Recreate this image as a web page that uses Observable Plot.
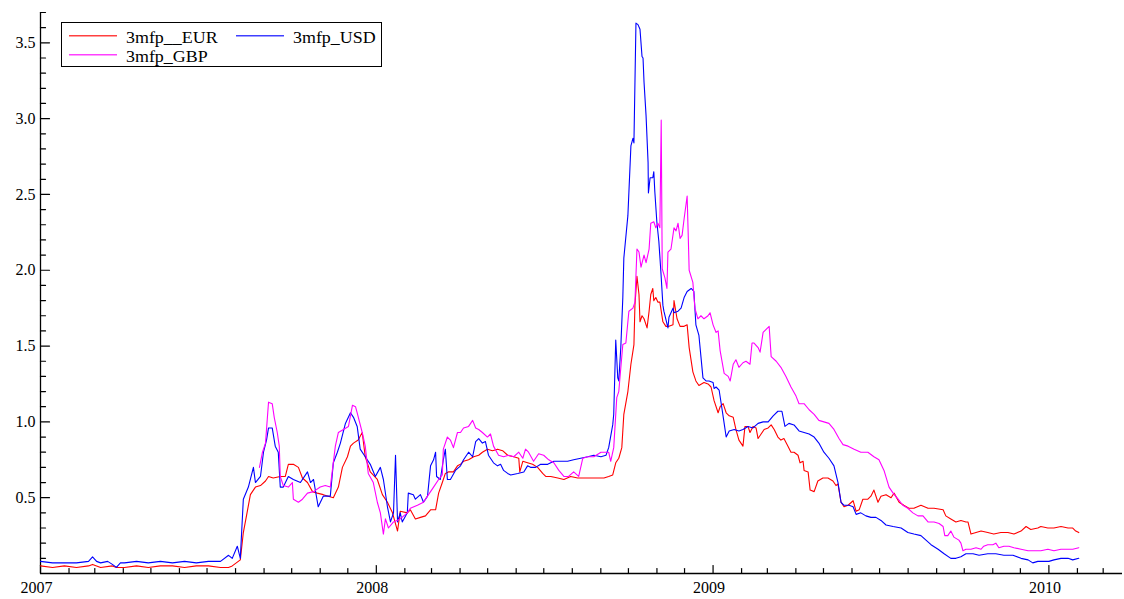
<!DOCTYPE html>
<html>
<head>
<meta charset="utf-8">
<script src="https://cdn.jsdelivr.net/npm/d3@7"></script>
<script src="https://cdn.jsdelivr.net/npm/@observablehq/plot@0.6"></script>
<style>
  body { margin: 0; background: #fff; }
  #wrap { position: relative; width: 1124px; height: 599px; }
  #legend { position: absolute; left: 61px; top: 22px; width: 319px; height: 43px; border: 1px solid #000; background: #fff; font-family: "Liberation Serif", serif; font-size: 16px; color: #000; }
  #legend svg { position: absolute; left: 0; top: 0; }
  .lab { position: absolute; line-height: 16px; white-space: nowrap; transform: scaleX(1.12); transform-origin: left center; }
</style>
</head>
<body>
<div id="wrap"><div id="legend"></div></div>
<script>
// ---- series names / colours ----
const seriesNames = ["3mfp__EUR", "3mfp_USD", "3mfp_GBP"];
const seriesColors = ["#ff0000", "#0000ff", "#ff00ff"];

// ---- tick labels ----
const yearTicks = ["2007", "2008", "2009", "2010"];
const yMajorTicks = [0.5, 1.0, 1.5, 2.0, 2.5, 3.0, 3.5];
const yMinorTicks = [0.1,0.2,0.3,0.4,0.6,0.7,0.8,0.9,1.1,1.2,1.3,1.4,1.6,1.7,1.8,1.9,2.1,2.2,2.3,2.4,2.6,2.7,2.8,2.9,3.1,3.2,3.3,3.4,3.6,3.7];

// ---- data: [decimal year, value] ----
const eur = [
[2007.000,0.05],[2007.036,0.04],[2007.071,0.05],[2007.107,0.04],[2007.143,0.05],[2007.155,0.06],[2007.179,0.04],[2007.214,0.05],
[2007.226,0.04],[2007.250,0.04],[2007.286,0.05],[2007.321,0.04],[2007.357,0.05],[2007.393,0.05],[2007.429,0.04],[2007.464,0.05],
[2007.500,0.05],[2007.536,0.04],[2007.560,0.04],[2007.571,0.05],[2007.595,0.09],[2007.604,0.27],[2007.615,0.40],[2007.625,0.52],
[2007.640,0.57],[2007.655,0.58],[2007.670,0.61],[2007.679,0.64],[2007.693,0.63],[2007.714,0.64],[2007.729,0.64],[2007.738,0.72],
[2007.753,0.72],[2007.768,0.70],[2007.780,0.63],[2007.795,0.60],[2007.810,0.54],[2007.824,0.53],[2007.842,0.52],[2007.857,0.51],
[2007.872,0.50],[2007.887,0.57],[2007.899,0.70],[2007.914,0.77],[2007.923,0.84],[2007.932,0.86],[2007.946,0.88],[2007.958,0.93],
[2007.967,0.77],[2007.982,0.67],[2008.003,0.62],[2008.018,0.52],[2008.033,0.47],[2008.048,0.40],[2008.063,0.28],[2008.071,0.41],
[2008.092,0.40],[2008.101,0.42],[2008.116,0.36],[2008.131,0.37],[2008.146,0.38],[2008.161,0.42],[2008.176,0.42],[2008.185,0.53],
[2008.196,0.60],[2008.205,0.66],[2008.214,0.67],[2008.229,0.67],[2008.241,0.71],[2008.250,0.72],[2008.259,0.74],[2008.274,0.75],
[2008.289,0.77],[2008.304,0.78],[2008.315,0.80],[2008.330,0.82],[2008.345,0.81],[2008.360,0.82],[2008.375,0.81],[2008.390,0.78],
[2008.408,0.77],[2008.423,0.76],[2008.426,0.67],[2008.435,0.74],[2008.449,0.73],[2008.464,0.72],[2008.479,0.70],[2008.494,0.66],
[2008.503,0.64],[2008.518,0.64],[2008.539,0.63],[2008.557,0.62],[2008.577,0.64],[2008.598,0.63],[2008.616,0.63],[2008.637,0.63],
[2008.658,0.63],[2008.676,0.63],[2008.690,0.64],[2008.702,0.65],[2008.711,0.73],[2008.720,0.76],[2008.729,0.83],[2008.735,1.05],
[2008.747,1.20],[2008.756,1.38],[2008.765,1.51],[2008.768,1.77],[2008.774,1.96],[2008.780,1.84],[2008.783,1.66],[2008.789,1.70],
[2008.795,1.68],[2008.804,1.62],[2008.810,1.73],[2008.815,1.84],[2008.821,1.88],[2008.824,1.80],[2008.830,1.82],[2008.836,1.79],
[2008.842,1.79],[2008.851,1.66],[2008.860,1.63],[2008.869,1.63],[2008.881,1.64],[2008.884,1.80],[2008.893,1.68],[2008.902,1.63],
[2008.914,1.63],[2008.923,1.64],[2008.929,1.49],[2008.940,1.33],[2008.949,1.27],[2008.958,1.24],[2008.973,1.26],[2008.985,1.25],
[2008.994,1.23],[2009.003,1.14],[2009.015,1.06],[2009.021,1.10],[2009.030,1.12],[2009.039,1.06],[2009.048,1.04],[2009.060,1.03],
[2009.068,0.95],[2009.077,0.88],[2009.089,0.84],[2009.095,0.97],[2009.104,0.97],[2009.110,0.93],[2009.119,0.97],[2009.128,0.96],
[2009.134,0.89],[2009.143,0.92],[2009.152,0.95],[2009.164,0.96],[2009.173,0.98],[2009.182,0.95],[2009.193,0.90],[2009.202,0.88],
[2009.211,0.89],[2009.223,0.84],[2009.232,0.80],[2009.241,0.80],[2009.253,0.78],[2009.259,0.73],[2009.268,0.74],[2009.271,0.68],
[2009.283,0.67],[2009.289,0.55],[2009.301,0.54],[2009.312,0.61],[2009.327,0.63],[2009.342,0.63],[2009.357,0.61],[2009.366,0.58],
[2009.372,0.59],[2009.381,0.47],[2009.390,0.44],[2009.402,0.45],[2009.417,0.48],[2009.426,0.41],[2009.435,0.42],[2009.446,0.49],
[2009.461,0.49],[2009.470,0.51],[2009.479,0.55],[2009.491,0.47],[2009.500,0.51],[2009.515,0.52],[2009.530,0.50],[2009.539,0.53],
[2009.554,0.47],[2009.568,0.45],[2009.583,0.43],[2009.598,0.43],[2009.619,0.45],[2009.640,0.43],[2009.658,0.43],[2009.685,0.42],
[2009.693,0.38],[2009.708,0.36],[2009.723,0.34],[2009.738,0.35],[2009.753,0.34],[2009.759,0.34],[2009.768,0.26],[2009.783,0.27],
[2009.798,0.28],[2009.818,0.27],[2009.836,0.26],[2009.857,0.27],[2009.878,0.27],[2009.896,0.26],[2009.917,0.28],[2009.932,0.31],
[2009.946,0.29],[2009.967,0.30],[2009.976,0.31],[2009.997,0.30],[2010.015,0.30],[2010.036,0.31],[2010.057,0.30],[2010.071,0.30],
[2010.080,0.28],[2010.089,0.27]
];

const usd = [
[2007.000,0.08],[2007.036,0.07],[2007.071,0.07],[2007.107,0.07],[2007.143,0.08],[2007.155,0.11],[2007.167,0.08],[2007.179,0.07],
[2007.200,0.08],[2007.214,0.06],[2007.226,0.04],[2007.238,0.07],[2007.250,0.07],[2007.286,0.08],[2007.321,0.07],[2007.357,0.08],
[2007.393,0.07],[2007.429,0.08],[2007.464,0.07],[2007.500,0.08],[2007.536,0.08],[2007.560,0.12],[2007.571,0.10],[2007.586,0.18],
[2007.595,0.10],[2007.604,0.49],[2007.619,0.57],[2007.634,0.70],[2007.640,0.60],[2007.655,0.64],[2007.664,0.80],[2007.673,0.88],
[2007.679,0.96],[2007.690,0.96],[2007.699,0.84],[2007.708,0.80],[2007.714,0.57],[2007.723,0.57],[2007.738,0.64],[2007.753,0.62],
[2007.774,0.60],[2007.795,0.67],[2007.804,0.60],[2007.813,0.62],[2007.827,0.44],[2007.842,0.51],[2007.863,0.51],[2007.872,0.73],
[2007.884,0.80],[2007.893,0.86],[2007.908,0.99],[2007.923,1.06],[2007.932,1.03],[2007.943,0.97],[2007.952,0.82],[2007.967,0.77],
[2007.982,0.72],[2007.997,0.64],[2008.012,0.70],[2008.021,0.62],[2008.033,0.44],[2008.042,0.34],[2008.051,0.40],[2008.057,0.78],
[2008.063,0.34],[2008.071,0.40],[2008.077,0.34],[2008.092,0.40],[2008.095,0.53],[2008.110,0.52],[2008.116,0.49],[2008.131,0.52],
[2008.140,0.47],[2008.152,0.51],[2008.161,0.71],[2008.170,0.75],[2008.176,0.80],[2008.179,0.64],[2008.190,0.62],[2008.199,0.75],
[2008.205,0.82],[2008.211,0.62],[2008.220,0.62],[2008.235,0.68],[2008.250,0.71],[2008.259,0.75],[2008.274,0.80],[2008.286,0.77],
[2008.295,0.87],[2008.304,0.89],[2008.315,0.86],[2008.324,0.87],[2008.333,0.78],[2008.348,0.73],[2008.360,0.71],[2008.369,0.72],
[2008.378,0.68],[2008.390,0.66],[2008.399,0.65],[2008.420,0.66],[2008.438,0.67],[2008.449,0.71],[2008.458,0.70],[2008.473,0.70],
[2008.488,0.72],[2008.509,0.72],[2008.527,0.74],[2008.548,0.74],[2008.568,0.74],[2008.586,0.75],[2008.607,0.76],[2008.628,0.77],
[2008.646,0.78],[2008.667,0.77],[2008.682,0.78],[2008.690,0.83],[2008.702,0.98],[2008.705,1.05],[2008.711,1.54],[2008.717,1.29],
[2008.720,1.27],[2008.726,1.49],[2008.732,1.82],[2008.735,2.08],[2008.747,2.36],[2008.756,2.82],[2008.762,2.87],[2008.765,2.84],
[2008.771,3.63],[2008.777,3.62],[2008.783,3.59],[2008.789,3.41],[2008.792,3.40],[2008.795,3.24],[2008.801,3.02],[2008.807,2.71],
[2008.808,2.51],[2008.813,2.61],[2008.821,2.61],[2008.824,2.65],[2008.827,2.52],[2008.833,2.32],[2008.839,2.19],[2008.845,1.99],
[2008.851,1.77],[2008.854,1.73],[2008.866,1.62],[2008.869,1.69],[2008.881,1.75],[2008.884,1.72],[2008.896,1.73],[2008.905,1.75],
[2008.914,1.82],[2008.923,1.86],[2008.935,1.88],[2008.943,1.86],[2008.949,1.64],[2008.958,1.57],[2008.970,1.29],[2008.979,1.27],
[2008.988,1.27],[2009.000,1.26],[2009.003,1.22],[2009.009,1.23],[2009.018,1.21],[2009.027,1.08],[2009.033,0.99],[2009.039,0.90],
[2009.048,0.94],[2009.063,0.95],[2009.077,0.94],[2009.089,0.95],[2009.104,0.97],[2009.119,0.96],[2009.134,0.99],[2009.149,1.00],
[2009.164,1.00],[2009.179,1.04],[2009.193,1.07],[2009.205,1.07],[2009.214,0.97],[2009.226,0.99],[2009.241,0.98],[2009.256,0.94],
[2009.271,0.93],[2009.286,0.92],[2009.301,0.90],[2009.315,0.86],[2009.330,0.80],[2009.345,0.76],[2009.360,0.71],[2009.372,0.60],
[2009.381,0.47],[2009.390,0.45],[2009.405,0.45],[2009.417,0.44],[2009.426,0.39],[2009.440,0.40],[2009.455,0.38],[2009.470,0.37],
[2009.485,0.37],[2009.500,0.35],[2009.515,0.32],[2009.536,0.31],[2009.560,0.30],[2009.580,0.27],[2009.598,0.26],[2009.619,0.25],
[2009.634,0.22],[2009.649,0.19],[2009.670,0.16],[2009.688,0.13],[2009.708,0.10],[2009.723,0.10],[2009.738,0.11],[2009.753,0.13],
[2009.774,0.13],[2009.792,0.12],[2009.818,0.13],[2009.842,0.13],[2009.866,0.12],[2009.893,0.12],[2009.917,0.10],[2009.938,0.09],
[2009.952,0.07],[2009.967,0.08],[2009.985,0.08],[2010.000,0.08],[2010.015,0.09],[2010.036,0.10],[2010.057,0.10],[2010.071,0.09],
[2010.089,0.10]
];

const gbp = [
[2007.652,0.70],[2007.661,0.80],[2007.670,0.86],[2007.679,1.13],[2007.690,1.12],[2007.696,1.03],[2007.705,0.93],[2007.711,0.84],
[2007.714,0.64],[2007.723,0.58],[2007.738,0.57],[2007.750,0.60],[2007.753,0.49],[2007.768,0.47],[2007.780,0.49],[2007.795,0.53],
[2007.813,0.54],[2007.833,0.57],[2007.848,0.58],[2007.863,0.57],[2007.878,0.84],[2007.887,0.93],[2007.902,0.95],[2007.917,0.97],
[2007.929,1.11],[2007.938,1.10],[2007.943,1.06],[2007.958,0.93],[2007.967,0.84],[2007.976,0.66],[2007.991,0.60],[2008.003,0.47],
[2008.012,0.40],[2008.021,0.26],[2008.027,0.36],[2008.036,0.30],[2008.051,0.34],[2008.071,0.36],[2008.092,0.40],[2008.101,0.43],
[2008.122,0.45],[2008.140,0.47],[2008.155,0.52],[2008.170,0.57],[2008.185,0.62],[2008.196,0.65],[2008.199,0.82],[2008.211,0.90],
[2008.220,0.88],[2008.229,0.83],[2008.241,0.93],[2008.250,0.93],[2008.259,0.96],[2008.274,0.97],[2008.286,1.01],[2008.295,0.96],
[2008.304,0.95],[2008.315,0.93],[2008.330,0.90],[2008.339,0.92],[2008.348,0.84],[2008.363,0.78],[2008.378,0.77],[2008.393,0.78],
[2008.408,0.77],[2008.423,0.80],[2008.435,0.76],[2008.443,0.82],[2008.452,0.80],[2008.467,0.74],[2008.482,0.79],[2008.497,0.78],
[2008.512,0.75],[2008.527,0.73],[2008.542,0.68],[2008.557,0.64],[2008.571,0.64],[2008.586,0.67],[2008.601,0.64],[2008.613,0.76],
[2008.628,0.77],[2008.646,0.77],[2008.667,0.80],[2008.682,0.80],[2008.690,0.80],[2008.696,0.74],[2008.705,0.83],[2008.714,1.16],
[2008.720,1.20],[2008.732,1.51],[2008.741,1.52],[2008.750,1.73],[2008.762,1.75],[2008.768,1.79],[2008.774,2.14],[2008.780,2.12],
[2008.786,2.02],[2008.795,2.10],[2008.801,2.05],[2008.810,2.14],[2008.815,2.31],[2008.824,2.32],[2008.830,2.28],[2008.836,2.31],
[2008.842,2.28],[2008.846,2.99],[2008.849,2.01],[2008.857,1.95],[2008.863,1.88],[2008.866,2.12],[2008.875,2.14],[2008.884,2.28],
[2008.890,2.26],[2008.896,2.31],[2008.902,2.21],[2008.908,2.23],[2008.914,2.34],[2008.923,2.49],[2008.926,2.25],[2008.929,2.00],
[2008.940,1.92],[2008.946,1.75],[2008.955,1.68],[2008.964,1.70],[2008.973,1.68],[2008.985,1.70],[2008.991,1.72],[2009.000,1.64],
[2009.009,1.59],[2009.015,1.60],[2009.021,1.47],[2009.033,1.32],[2009.045,1.30],[2009.051,1.27],[2009.060,1.38],[2009.068,1.41],
[2009.077,1.36],[2009.089,1.39],[2009.098,1.40],[2009.110,1.38],[2009.116,1.52],[2009.122,1.52],[2009.134,1.49],[2009.140,1.46],
[2009.149,1.59],[2009.158,1.61],[2009.167,1.63],[2009.173,1.43],[2009.188,1.40],[2009.202,1.36],[2009.217,1.30],[2009.232,1.23],
[2009.247,1.17],[2009.256,1.12],[2009.271,1.12],[2009.286,1.08],[2009.301,1.05],[2009.315,1.01],[2009.330,1.00],[2009.345,0.99],
[2009.360,0.95],[2009.375,0.89],[2009.387,0.85],[2009.402,0.84],[2009.420,0.82],[2009.440,0.80],[2009.461,0.80],[2009.479,0.77],
[2009.494,0.75],[2009.509,0.68],[2009.524,0.57],[2009.536,0.53],[2009.551,0.49],[2009.565,0.45],[2009.580,0.43],[2009.595,0.40],
[2009.610,0.38],[2009.625,0.38],[2009.640,0.34],[2009.658,0.34],[2009.673,0.33],[2009.685,0.31],[2009.690,0.25],[2009.699,0.25],
[2009.708,0.28],[2009.717,0.24],[2009.732,0.22],[2009.738,0.20],[2009.744,0.15],[2009.753,0.16],[2009.768,0.16],[2009.783,0.17],
[2009.798,0.16],[2009.806,0.18],[2009.818,0.19],[2009.833,0.19],[2009.842,0.20],[2009.851,0.17],[2009.866,0.18],[2009.881,0.18],
[2009.896,0.17],[2009.917,0.16],[2009.938,0.15],[2009.957,0.15],[2009.976,0.15],[2009.997,0.16],[2010.015,0.15],[2010.036,0.16],
[2010.057,0.16],[2010.071,0.16],[2010.089,0.17]
];

// ---- build table ----
function decYear(t) {
  const y = Math.floor(t);
  const a = Date.UTC(y, 0, 1), b = Date.UTC(y + 1, 0, 1);
  return new Date(a + (t - y) * (b - a));
}
const seriesData = [eur, usd, gbp];
const rows = [];
seriesData.forEach((s, i) => s.forEach(([t, v]) => rows.push({date: decYear(t), value: v, series: seriesNames[i]})));

const xStart = new Date(Date.UTC(2007, 0, 1));
const xEnd = new Date(Date.UTC(2010, 2, 22));
const yearDates = yearTicks.map(s => new Date(Date.UTC(+s, 0, 1)));
const monthDates = d3.utcMonth.range(d3.utcMonth.offset(xStart, 1), xEnd).filter(d => d.getUTCMonth() !== 0);

// inward tick shape: a straight segment from the anchor point
const tickShape = {draw(context, l) { context.moveTo(0, 0); context.lineTo(0, -l); }};

const chart = Plot.plot({
  width: 1124,
  height: 599,
  marginLeft: 40,
  marginRight: 2,
  marginTop: 12,
  marginBottom: 26,
  style: {fontFamily: '"Liberation Serif", serif', fontSize: "16px", color: "#000", background: "#fff", overflow: "visible"},
  x: {type: "utc", domain: [xStart, xEnd], label: null},
  y: {domain: [0, 3.7], label: null},
  color: {domain: seriesNames, range: seriesColors},
  marks: [
    Plot.ruleY([0], {stroke: "#000", strokeWidth: 1.3}),
    Plot.ruleX([xStart], {stroke: "#000", strokeWidth: 1.3}),
    // y ticks (pointing into the plot)
    Plot.vector(yMinorTicks, {x: () => xStart, y: d => d, length: 5, rotate: 90, anchor: "start", shape: tickShape, stroke: "#000", strokeWidth: 1.2}),
    Plot.vector(yMajorTicks, {x: () => xStart, y: d => d, length: 9, rotate: 90, anchor: "start", shape: tickShape, stroke: "#000", strokeWidth: 1.2}),
    Plot.axisY(yMajorTicks, {anchor: "left", tickSize: 0, tickPadding: 5, tickFormat: d3.format(".1f"), label: null, fill: "#000", fontSize: 16}),
    // x ticks (pointing up)
    Plot.vector(monthDates, {x: d => d, y: () => 0, length: 5, rotate: 0, anchor: "start", shape: tickShape, stroke: "#000", strokeWidth: 1.2}),
    Plot.vector(yearDates, {x: d => d, y: () => 0, length: 8, rotate: 0, anchor: "start", shape: tickShape, stroke: "#000", strokeWidth: 1.2}),
    Plot.axisX(yearDates, {anchor: "bottom", tickSize: 0, tickPadding: 8, tickFormat: d3.utcFormat("%Y"), label: null, fill: "#000", fontSize: 16, dx: -4}),
    Plot.line(rows, {x: "date", y: "value", z: "series", stroke: "series", strokeWidth: 1.1})
  ]
});
document.getElementById("wrap").prepend(chart);

// ---- legend (overlaid box, as in the reference) ----
const legend = document.getElementById("legend");
const legendPos = [[7, 12, 64, 7], [174, 12, 231, 7], [7, 31, 64, 26]];
const NS = "http://www.w3.org/2000/svg";
const lsvg = document.createElementNS(NS, "svg");
lsvg.setAttribute("width", 319); lsvg.setAttribute("height", 43);
legend.appendChild(lsvg);
seriesNames.forEach((name, i) => {
  const [lx, ly, tx, ty] = legendPos[i];
  const ln = document.createElementNS(NS, "rect");
  ln.setAttribute("x", lx); ln.setAttribute("width", 48);
  ln.setAttribute("y", ly); ln.setAttribute("height", 1.5);
  ln.setAttribute("fill", seriesColors[i]);
  ln.setAttribute("fill-opacity", 0.75);
  lsvg.appendChild(ln);
  const t = document.createElement("div");
  t.className = "lab";
  t.style.left = tx + "px"; t.style.top = ty + "px";
  t.textContent = name;
  legend.appendChild(t);
});
</script>
</body>
</html>
